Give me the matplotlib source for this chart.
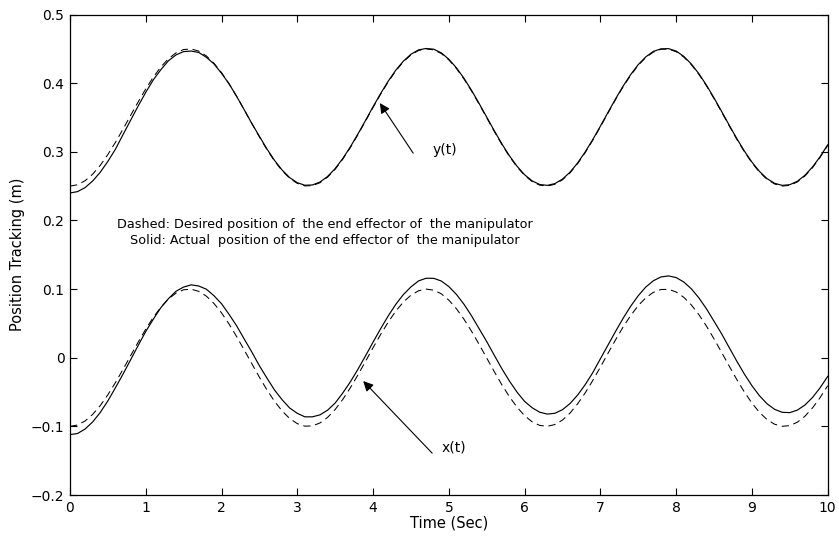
import numpy as np
import matplotlib
matplotlib.use("Agg")
import matplotlib.pyplot as plt

plt.rcParams['font.family'] = 'DejaVu Sans'

# time samples (s)
t = np.linspace(0, 10, 101)

# desired x(t) (dashed)
x_desired = [
    -0.1000, -0.0980, -0.0921, -0.0825, -0.0697, -0.0540, -0.0362, -0.0170, 0.0029, 0.0227,
    0.0416, 0.0589, 0.0737, 0.0857, 0.0942, 0.0990, 0.0998, 0.0967, 0.0897, 0.0791,
    0.0654, 0.0490, 0.0307, 0.0112, -0.0087, -0.0284, -0.0469, -0.0635, -0.0776, -0.0886,
    -0.0960, -0.0997, -0.0993, -0.0950, -0.0869, -0.0754, -0.0608, -0.0439, -0.0251, -0.0054,
    0.0146, 0.0339, 0.0519, 0.0679, 0.0811, 0.0911, 0.0975, 0.1000, 0.0985, 0.0932,
    0.0839, 0.0714, 0.0561, 0.0385, 0.0194, -0.0004, -0.0203, -0.0394, -0.0568, -0.0720,
    -0.0844, -0.0934, -0.0986, -0.0999, -0.0973, -0.0908, -0.0806, -0.0672, -0.0512, -0.0331,
    -0.0137, 0.0063, 0.0260, 0.0447, 0.0615, 0.0760, 0.0874, 0.0953, 0.0994, 0.0996,
    0.0958, 0.0881, 0.0770, 0.0628, 0.0461, 0.0275, 0.0079, -0.0121, -0.0316, -0.0498,
    -0.0660, -0.0796, -0.0901, -0.0969, -0.0999, -0.0989, -0.0939, -0.0852, -0.0731, -0.0581,
    -0.0408,
]

# actual x(t) (solid)
x_actual = [
    -0.1120, -0.1104, -0.1038, -0.0935, -0.0797, -0.0629, -0.0437, -0.0239, -0.0031, 0.0179,
    0.0382, 0.0562, 0.0730, 0.0861, 0.0969, 0.1030, 0.1062, 0.1045, 0.0998, 0.0904,
    0.0787, 0.0631, 0.0464, 0.0272, 0.0083, -0.0117, -0.0297, -0.0471, -0.0612, -0.0733,
    -0.0810, -0.0861, -0.0861, -0.0832, -0.0764, -0.0660, -0.0514, -0.0352, -0.0169, 0.0026,
    0.0227, 0.0423, 0.0609, 0.0778, 0.0920, 0.1032, 0.1119, 0.1158, 0.1157, 0.1118,
    0.1037, 0.0923, 0.0779, 0.0610, 0.0423, 0.0236, 0.0036, -0.0160, -0.0340, -0.0501,
    -0.0636, -0.0729, -0.0794, -0.0821, -0.0809, -0.0757, -0.0667, -0.0544, -0.0392, -0.0217,
    -0.0016, 0.0183, 0.0382, 0.0574, 0.0750, 0.0904, 0.1030, 0.1122, 0.1177, 0.1192,
    0.1168, 0.1104, 0.1005, 0.0872, 0.0713, 0.0532, 0.0349, 0.0149, -0.0049, -0.0237,
    -0.0407, -0.0554, -0.0671, -0.0752, -0.0795, -0.0800, -0.0763, -0.0689, -0.0579, -0.0438,
    -0.0272,
]

# desired y(t) (dashed)
y_desired = [
    0.2500, 0.2520, 0.2579, 0.2675, 0.2803, 0.2960, 0.3138, 0.3330, 0.3529, 0.3727,
    0.3916, 0.4089, 0.4237, 0.4357, 0.4442, 0.4490, 0.4498, 0.4467, 0.4397, 0.4291,
    0.4154, 0.3990, 0.3807, 0.3612, 0.3413, 0.3216, 0.3031, 0.2865, 0.2724, 0.2614,
    0.2540, 0.2503, 0.2507, 0.2550, 0.2631, 0.2746, 0.2892, 0.3061, 0.3249, 0.3446,
    0.3646, 0.3839, 0.4019, 0.4179, 0.4311, 0.4411, 0.4475, 0.4500, 0.4485, 0.4432,
    0.4339, 0.4214, 0.4061, 0.3885, 0.3694, 0.3496, 0.3297, 0.3106, 0.2932, 0.2780,
    0.2656, 0.2566, 0.2514, 0.2501, 0.2527, 0.2592, 0.2694, 0.2828, 0.2988, 0.3169,
    0.3363, 0.3563, 0.3760, 0.3947, 0.4115, 0.4260, 0.4374, 0.4453, 0.4494, 0.4496,
    0.4458, 0.4381, 0.4270, 0.4128, 0.3961, 0.3775, 0.3579, 0.3379, 0.3184, 0.3002,
    0.2840, 0.2704, 0.2599, 0.2531, 0.2501, 0.2511, 0.2561, 0.2648, 0.2769, 0.2919,
    0.3092,
]

# actual y(t) (solid)
y_actual = [
    0.2400, 0.2420, 0.2479, 0.2575, 0.2703, 0.2860, 0.3038, 0.3250, 0.3459, 0.3667,
    0.3866, 0.4049, 0.4197, 0.4327, 0.4412, 0.4460, 0.4468, 0.4447, 0.4377, 0.4281,
    0.4144, 0.3990, 0.3807, 0.3612, 0.3413, 0.3226, 0.3041, 0.2875, 0.2734, 0.2624,
    0.2550, 0.2513, 0.2517, 0.2560, 0.2641, 0.2756, 0.2902, 0.3071, 0.3259, 0.3456,
    0.3656, 0.3849, 0.4029, 0.4189, 0.4321, 0.4421, 0.4485, 0.4505, 0.4495, 0.4442,
    0.4349, 0.4224, 0.4071, 0.3895, 0.3704, 0.3506, 0.3307, 0.3116, 0.2942, 0.2790,
    0.2666, 0.2576, 0.2524, 0.2511, 0.2537, 0.2602, 0.2704, 0.2838, 0.2998, 0.3179,
    0.3373, 0.3573, 0.3770, 0.3957, 0.4125, 0.4270, 0.4384, 0.4463, 0.4500, 0.4503,
    0.4468, 0.4391, 0.4280, 0.4138, 0.3971, 0.3785, 0.3589, 0.3389, 0.3194, 0.3012,
    0.2850, 0.2714, 0.2609, 0.2541, 0.2511, 0.2521, 0.2571, 0.2658, 0.2779, 0.2929,
    0.3102,
]

xticks = [0, 1, 2, 3, 4, 5, 6, 7, 8, 9, 10]
yticks = [-0.2, -0.1, 0, 0.1, 0.2, 0.3, 0.4, 0.5]
ytick_labels = ['\u22120.2', '\u22120.1', '0', '0.1', '0.2', '0.3', '0.4', '0.5']

fig = plt.figure(figsize=(8.39, 5.38), dpi=100)
ax = fig.add_axes([0.0834, 0.0799, 0.9031, 0.8931])

dash = (7.0, 4.5)
ax.plot(t, y_desired, color='k', lw=0.75, dashes=dash)
ax.plot(t, y_actual, color='k', lw=0.85)
ax.plot(t, x_desired, color='k', lw=0.75, dashes=dash)
ax.plot(t, x_actual, color='k', lw=0.85)

ax.set_xlim(0, 10)
ax.set_ylim(-0.2, 0.5)
ax.set_xticks(xticks)
ax.set_xticklabels([str(v) for v in xticks])
ax.set_yticks(yticks)
ax.set_yticklabels(ytick_labels)
ax.tick_params(direction='in', length=5, width=0.8, top=True, right=True,
               labelsize=10, pad=4)
for sp in ax.spines.values():
    sp.set_linewidth(0.9)

ax.set_xlabel('Time (Sec)', fontsize=10.5, labelpad=1)
ax.set_ylabel('Position Tracking (m)', fontsize=10.5, labelpad=4)

# annotations
ax.text(3.36, 0.1934, 'Dashed: Desired position of  the end effector of  the manipulator',
        fontsize=9.2, ha='center', va='center')
ax.text(3.36, 0.171, 'Solid: Actual  position of the end effector of  the manipulator',
        fontsize=9.2, ha='center', va='center')

arrow = dict(arrowstyle='-|>', color='k', lw=0.8, mutation_scale=15, shrinkA=0, shrinkB=0)
ax.annotate('', xy=(4.09, 0.371), xytext=(4.53, 0.298), arrowprops=arrow)
ax.text(4.78, 0.302, 'y(t)', fontsize=10, ha='left', va='center')
ax.annotate('', xy=(3.87, -0.034), xytext=(4.78, -0.139), arrowprops=arrow)
ax.text(4.91, -0.131, 'x(t)', fontsize=10, ha='left', va='center')

fig.savefig('out.png', dpi=100, facecolor='white')
